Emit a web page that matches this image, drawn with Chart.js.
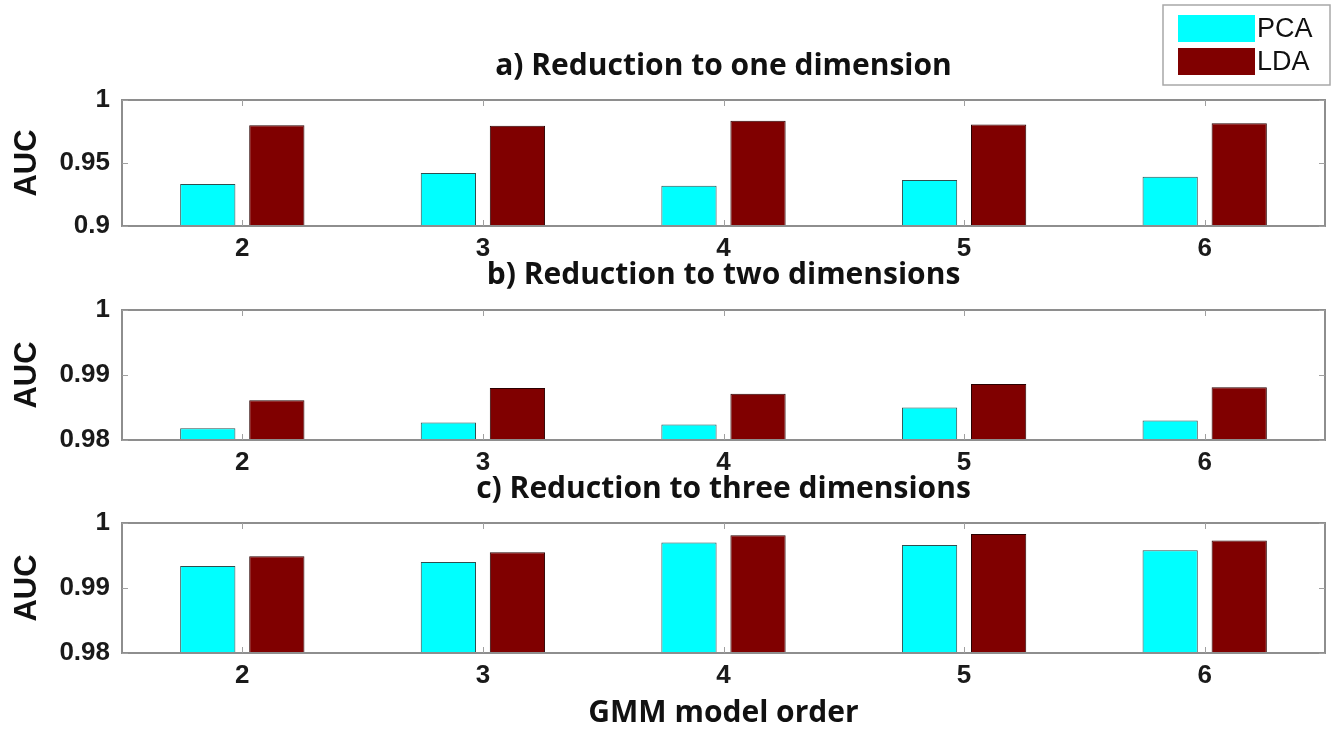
<!DOCTYPE html>
<html>
<head>
<meta charset="utf-8">
<script src="https://cdn.jsdelivr.net/npm/chart.js@4.4.1/dist/chart.umd.min.js"></script>
<style>
  html, body { margin: 0; padding: 0; background: #ffffff; }
  #wrap { position: relative; width: 1342px; height: 732px; overflow: hidden; }
  .panel { position: absolute; left: 0; width: 1342px; }
</style>
</head>
<body>
<div id="wrap">
  <div class="panel" id="pa" style="top:0px;height:265px;"><canvas id="ca"></canvas></div>
  <div class="panel" id="pb" style="top:255px;height:222px;"><canvas id="cb"></canvas></div>
  <div class="panel" id="pc" style="top:468px;height:264px;"><canvas id="cc"></canvas></div>
</div>
<script>
// GMM model orders on the x axis
const modelOrders = ['2', '3', '4', '5', '6'];
const seriesNames = ['PCA', 'LDA'];

// AUC after reduction to one dimension
const pcaOneDim = [0.9333, 0.9420, 0.9320, 0.9365, 0.9390];
const ldaOneDim = [0.9800, 0.9795, 0.9835, 0.9805, 0.9815];

// AUC after reduction to two dimensions
const pcaTwoDim = [0.9818, 0.9827, 0.9824, 0.9850, 0.9830];
const ldaTwoDim = [0.9861, 0.9880, 0.9871, 0.9886, 0.9881];

// AUC after reduction to three dimensions
const pcaThreeDim = [0.9934, 0.9940, 0.9970, 0.9966, 0.9958];
const ldaThreeDim = [0.9949, 0.9955, 0.9981, 0.9983, 0.9973];

// y-axis ticks for each panel
const ticksOneDim = [0.9, 0.95, 1];
const tickLabelsOneDim = ['0.9', '0.95', '1'];
const ticksTwoDim = [0.98, 0.99, 1];
const tickLabelsTwoDim = ['0.98', '0.99', '1'];
const ticksThreeDim = [0.98, 0.99, 1];
const tickLabelsThreeDim = ['0.98', '0.99', '1'];

const panelTitles = ['a) Reduction to one dimension', 'b) Reduction to two dimensions', 'c) Reduction to three dimensions'];
const xAxisTitle = 'GMM model order';
const yAxisTitle = 'AUC';

const seriesColors = ['#00ffff', '#800000'];
const edgeColors = ['#2f4f4f', '#2a0000'];

const TITLE_FONT = { family: '"Open Sans", "DejaVu Sans", sans-serif', size: 30, weight: 'bold', lineHeight: 1.2 };
const TICK_FONT = { family: '"Liberation Sans", Arial, sans-serif', size: 26, weight: 'bold' };
const AUC_FONT = { family: '"Liberation Sans", Arial, sans-serif', size: 31, weight: 'bold' };

// MATLAB-like box around the plot area with inward tick marks
const boxAxes = {
  id: 'boxAxes',
  afterDatasetsDraw(chart) {
    const { ctx, chartArea: a, scales } = chart;
    ctx.save();
    ctx.strokeStyle = '#8e8e8e';
    ctx.lineWidth = 2;
    ctx.strokeRect(a.left, a.top, a.right - a.left, a.bottom - a.top);
    ctx.strokeStyle = '#a0a0a0';
    ctx.lineWidth = 1;
    const tl = 6;
    ctx.beginPath();
    scales.x.ticks.forEach((t, i) => {
      const px = Math.round(scales.x.getPixelForTick(i)) + 0.5;
      ctx.moveTo(px, a.top); ctx.lineTo(px, a.top + tl);
      ctx.moveTo(px, a.bottom); ctx.lineTo(px, a.bottom - tl);
    });
    scales.y.ticks.forEach(t => {
      const py = Math.round(scales.y.getPixelForValue(t.value)) + 0.5;
      ctx.moveTo(a.left, py); ctx.lineTo(a.left + tl, py);
      ctx.moveTo(a.right, py); ctx.lineTo(a.right - tl, py);
    });
    ctx.stroke();
    ctx.restore();
  }
};

// Boxed legend in the top-right corner, built from the datasets
const boxLegend = {
  id: 'boxLegend',
  afterDraw(chart, args, opts) {
    if (!opts.show) return;
    const { ctx } = chart;
    const ds = chart.data.datasets;
    const x0 = 1163, y0 = 5, w = 167, h = 80;
    ctx.save();
    ctx.fillStyle = '#ffffff';
    ctx.fillRect(x0, y0, w, h);
    ctx.strokeStyle = '#a8a8a8';
    ctx.lineWidth = 1.5;
    ctx.strokeRect(x0, y0, w, h);
    ctx.font = '27px "Liberation Sans", Arial, sans-serif';
    ctx.textBaseline = 'middle';
    ctx.textAlign = 'left';
    ds.forEach((d, i) => {
      const sy = y0 + 10 + i * 33;
      ctx.fillStyle = d.backgroundColor;
      ctx.fillRect(x0 + 15, sy, 77, 27);
      ctx.fillStyle = '#111111';
      ctx.fillText(d.label, x0 + 94, sy + 15);
    });
    ctx.restore();
  }
};

function makePanel(canvasId, cfg) {
  return new Chart(document.getElementById(canvasId), {
    type: 'bar',
    data: {
      labels: modelOrders,
      datasets: [
        { label: seriesNames[0], data: cfg.pca, backgroundColor: seriesColors[0], borderColor: edgeColors[0], borderWidth: 1,
          categoryPercentage: 0.574, barPercentage: 0.8 },
        { label: seriesNames[1], data: cfg.lda, backgroundColor: seriesColors[1], borderColor: edgeColors[1], borderWidth: 1,
          categoryPercentage: 0.574, barPercentage: 0.8 }
      ]
    },
    options: {
      responsive: true,
      maintainAspectRatio: false,
      animation: false,
      layout: { padding: { top: 0, left: 0, right: 17, bottom: 0 } },
      plugins: {
        legend: { display: false },
        tooltip: { enabled: false },
        title: {
          display: true,
          text: cfg.title,
          fullSize: false,
          color: '#111111',
          font: TITLE_FONT,
          padding: cfg.titlePad
        },
        boxLegend: { show: !!cfg.legend }
      },
      scales: {
        x: {
          grid: { display: false, drawTicks: false },
          border: { display: false },
          ticks: { color: '#1a1a1a', font: TICK_FONT, padding: 7, maxRotation: 0 },
          title: {
            display: !!cfg.xTitle,
            text: xAxisTitle,
            color: '#111111',
            font: TITLE_FONT,
            padding: { top: 0, bottom: 1 }
          },
          afterFit(scale) { scale.height = cfg.xHeight; }
        },
        y: {
          min: cfg.ticks[0],
          max: cfg.ticks[cfg.ticks.length - 1],
          grid: { display: false, drawTicks: false },
          border: { display: false },
          afterBuildTicks(scale) { scale.ticks = cfg.ticks.map(v => ({ value: v })); },
          ticks: {
            color: '#1a1a1a',
            font: TICK_FONT,
            padding: 12,
            callback(value) {
              const i = cfg.ticks.findIndex(t => Math.abs(t - value) < 1e-9);
              return i >= 0 ? cfg.tickLabels[i] : '';
            }
          },
          title: {
            display: true,
            text: yAxisTitle,
            color: '#111111',
            font: AUC_FONT,
            padding: { top: 9, bottom: 0 }
          },
          afterFit(scale) { scale.width = 122; }
        }
      }
    },
    plugins: [boxAxes, boxLegend]
  });
}

makePanel('ca', {
  title: panelTitles[0], pca: pcaOneDim, lda: ldaOneDim,
  ticks: ticksOneDim, tickLabels: tickLabelsOneDim,
  titlePad: { top: 48, bottom: 16 }, xHeight: 39, legend: true
});
makePanel('cb', {
  title: panelTitles[1], pca: pcaTwoDim, lda: ldaTwoDim,
  ticks: ticksTwoDim, tickLabels: tickLabelsTwoDim,
  titlePad: { top: 2, bottom: 17 }, xHeight: 37
});
makePanel('cc', {
  title: panelTitles[2], pca: pcaThreeDim, lda: ldaThreeDim,
  ticks: ticksThreeDim, tickLabels: tickLabelsThreeDim,
  titlePad: { top: 3, bottom: 16 }, xHeight: 79, xTitle: true
});
</script>
</body>
</html>
